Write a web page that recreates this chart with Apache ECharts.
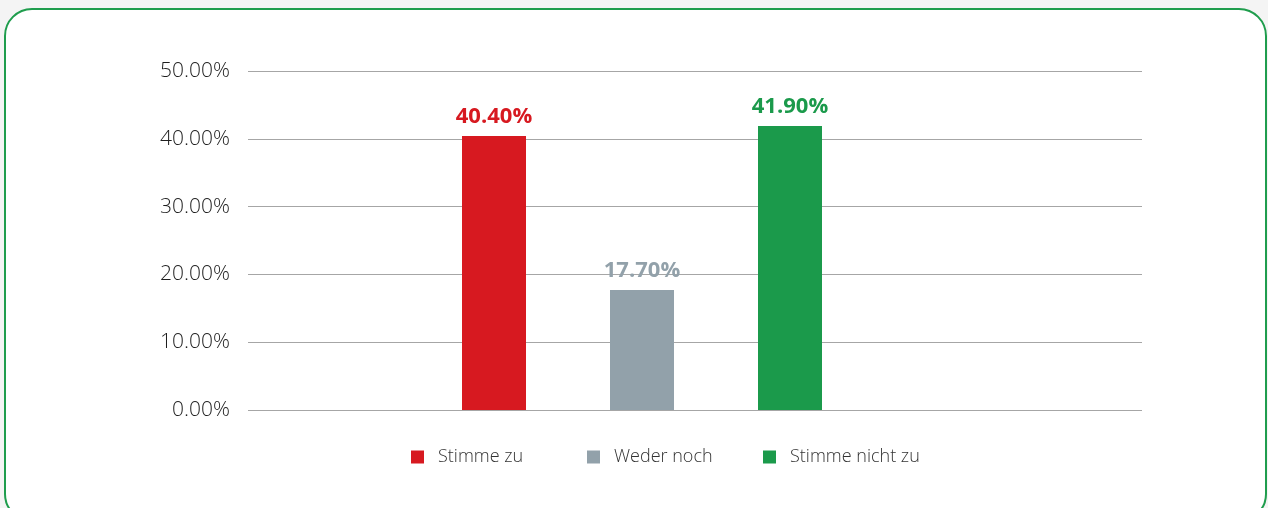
<!DOCTYPE html>
<html lang="de">
<head>
    <meta charset="UTF-8">
    <title>Umfrage</title>
    <script src="https://cdn.jsdelivr.net/npm/echarts@6/dist/echarts.min.js"></script>
    <style>
        html, body { margin: 0; padding: 0; background: #f4f4f4; }
        .frame {
            position: absolute; left: 4px; top: 8px; width: 1259px; height: 510px;
            border: 2px solid #1f9d4d; border-radius: 28px; background: #fff;
        }
        #chart { position: absolute; left: 0; top: 0; width: 1268px; height: 508px; }
    </style>
</head>
<body>
    <div class="frame"></div>
    <div id="chart"></div>

    <script>
        // Daten
        var categories = ['Stimme zu', 'Weder noch', 'Stimme nicht zu'];
        var values = [40.4, 17.7, 41.9];
        var colors = ['#d71920', '#92a1aa', '#1b9a4b'];
        var yTicks = [0, 10, 20, 30, 40, 50];

        var chart = echarts.init(document.getElementById('chart'), null, { renderer: 'canvas' });

        var font = "'Open Sans', sans-serif";

        // eine Serie pro Kategorie, damit jede einen Legendeneintrag bekommt
        var series = categories.map(function (name, i) {
            var d = categories.map(function (c, j) { return j === i ? values[i] : '-'; });
            return {
                name: name,
                type: 'bar',
                xAxisIndex: 1,
                yAxisIndex: 1,
                barWidth: 64,
                barGap: '-100%',
                itemStyle: { color: colors[i] },
                label: {
                    show: true,
                    position: 'top',
                    distance: 8,
                    color: colors[i],
                    fontFamily: font,
                    fontWeight: 'bold',
                    fontSize: 22,
                    formatter: function (p) { return p.value.toFixed(2) + '%'; }
                },
                data: d
            };
        });

        // Legenden mit festem Abstand (176px je Eintrag)
        var legends = categories.map(function (name, i) {
            return {
                left: 406 + i * 176,
                top: 443,
                itemWidth: 13,
                itemHeight: 13,
                icon: 'rect',
                textStyle: {
                    fontFamily: font, fontSize: 18, fontWeight: 300, color: '#333',
                    padding: [0, 0, 0, 9]
                },
                data: [name]
            };
        });

        var option = {
            animation: false,
            legend: legends,
            grid: [
                { left: 248, right: 126, top: 71, bottom: 98 },
                { left: 420, right: 404, top: 71, bottom: 98 }
            ],
            xAxis: [
                {
                    type: 'category', gridIndex: 0, data: [''],
                    axisLine: { show: false }, axisTick: { show: false }, axisLabel: { show: false }
                },
                {
                    type: 'category', gridIndex: 1, data: categories,
                    axisLine: { show: false }, axisTick: { show: false }, axisLabel: { show: false }
                }
            ],
            yAxis: [
                {
                    type: 'value', gridIndex: 0,
                    min: yTicks[0], max: yTicks[yTicks.length - 1], interval: 10,
                    axisLine: { show: false }, axisTick: { show: false },
                    axisLabel: {
                        margin: 18, fontFamily: font, fontSize: 21, fontWeight: 300, color: '#1e1e1e',
                        formatter: function (v) { return v.toFixed(2) + '%'; }
                    },
                    splitLine: { lineStyle: { color: '#a6a6a6', width: 1 } }
                },
                {
                    type: 'value', gridIndex: 1,
                    min: yTicks[0], max: yTicks[yTicks.length - 1], interval: 10,
                    show: false
                }
            ],
            series: series
        };
        chart.setOption(option);
    </script>
</body>
</html>
